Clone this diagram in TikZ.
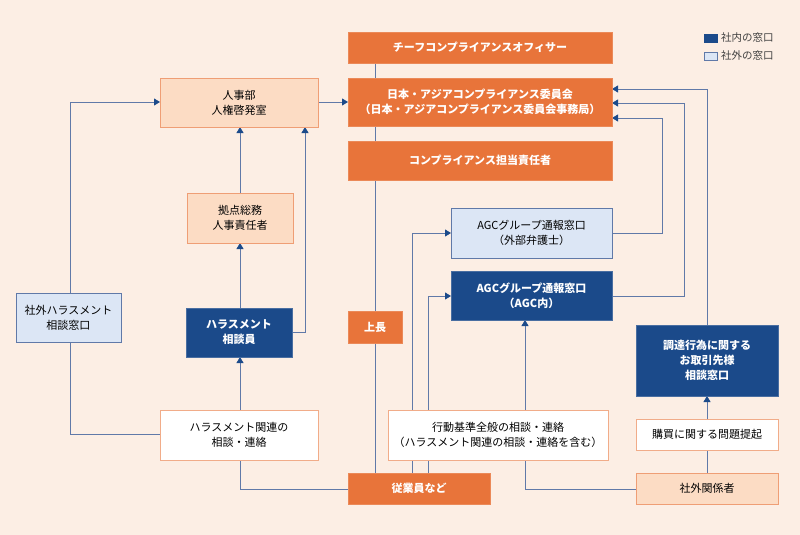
\documentclass[tikz,border=0pt]{standalone}
\usepackage{fontspec}
\setmainfont{Noto Sans CJK JP}
\usetikzlibrary{arrows.meta}
\definecolor{bg}{HTML}{FCEEE4}
\definecolor{org}{HTML}{E8743A}
\definecolor{dblue}{HTML}{1B4A8A}
\definecolor{lblue}{HTML}{DCE6F5}
\definecolor{peach}{HTML}{FCDCC4}
\definecolor{ln}{HTML}{6079A8}
\begin{document}
\begin{tikzpicture}[x=1pt,y=-1pt,
  box/.style={draw,line width=0.8pt,inner sep=0pt,align=center,font=\fontsize{11}{15}\selectfont},
  orgb/.style={box,fill=org,draw=org!85!white,text=white,font=\bfseries\fontsize{11}{15}\selectfont},
  dbb/.style={box,fill=dblue,draw=dblue!80!white,text=white,font=\bfseries\fontsize{11}{15}\selectfont},
  lbb/.style={box,fill=lblue,draw=ln,text=black},
  pb/.style={box,fill=peach,draw=org!70!white,text=black},
  wb/.style={box,fill=white,draw=org!60!white,text=black},
  con/.style={draw=ln,line width=0.8pt},
  arr/.style={con,-{Triangle[length=6pt,width=7pt,color=dblue]}}]
\fill[bg] (0,0) rectangle (800,535);
\useasboundingbox (0,0) rectangle (800,535);
\def\bx#1#2#3#4#5#6#7{\node[#1,minimum width=#4-#2,minimum height=#5-#3] (#6) at ({(#2+#4)/2},{(#3+#5)/2}) {#7};}
% connectors (behind)
\draw[con] (375,63) -- (375,473);
\draw[arr] (318,102) -- (348,102);
\draw[arr] (240,193) -- (240,127);
\draw[arr] (240,308) -- (240,243);
\draw[arr] (292,332) -- (305,332) -- (305,127);
\draw[arr] (70,293) -- (70,102) -- (160,102);
\draw[con] (70,342) -- (70,434) -- (160,434);
\draw[arr] (240,410) -- (240,357);
\draw[con] (240,460) -- (240,489) -- (348,489);
\draw[arr] (412,473) -- (412,233) -- (451,233);
\draw[arr] (428,473) -- (428,296) -- (451,296);
\draw[arr] (612,233) -- (662,233) -- (662,118) -- (612,118);
\draw[arr] (612,296) -- (684,296) -- (684,103) -- (612,103);
\draw[arr] (707,325) -- (707,89) -- (612,89);
\draw[arr] (707,419) -- (707,396);
\draw[con] (707,473) -- (707,450);
\draw[arr] (636,489) -- (525,489) -- (525,320);
% boxes
\bx{orgb}{348}{32}{612}{63}{chief}{チーフコンプライアンスオフィサー}
\bx{orgb}{348}{78}{612}{126}{comm}{日本・アジアコンプライアンス委員会\\（日本・アジアコンプライアンス委員会事務局）}
\bx{orgb}{348}{141}{612}{180}{resp}{コンプライアンス担当責任者}
\bx{pb}{160}{78}{318}{127}{hr}{人事部\\人権啓発室}
\bx{pb}{187}{193}{293}{243}{base}{拠点総務\\人事責任者}
\bx{dbb}{186}{308}{292}{357}{hc}{ハラスメント\\相談員}
\bx{lbb}{16}{293}{121}{342}{ext}{社外ハラスメント\\相談窓口}
\bx{wb}{160}{410}{318}{460}{hrel}{ハラスメント関連の\\相談・連絡}
\bx{orgb}{348}{311}{402}{343}{boss}{上長}
\bx{orgb}{348}{473}{490}{504}{emp}{従業員など}
\bx{lbb}{451}{208}{612}{258}{agcx}{AGCグループ通報窓口\\（外部弁護士）}
\bx{dbb}{451}{271}{612}{320}{agci}{AGCグループ通報窓口\\（AGC内）}
\bx{wb}{388}{410}{608}{460}{cond}{行動基準全般の相談・連絡\\（ハラスメント関連の相談・連絡を含む）}
\bx{dbb}{636}{325}{778}{396}{proc}{調達行為に関する\\お取引先様\\相談窓口}
\bx{wb}{636}{419}{778}{450}{buy}{購買に関する問題提起}
\bx{pb}{636}{473}{778}{504}{outp}{社外関係者}
% legend
\node[draw=dblue,fill=dblue,minimum width=13pt,minimum height=8pt,inner sep=0pt] (lg1) at (711,38) {};
\node[draw=ln,fill=lblue,minimum width=13pt,minimum height=8pt,inner sep=0pt] (lg2) at (711,56) {};
\node[anchor=west,font=\fontsize{10.5}{12}\selectfont,text=black!75] (lt1) at (lg1.east) {社内の窓口};
\node[anchor=west,font=\fontsize{10.5}{12}\selectfont,text=black!75] (lt2) at (lg2.east) {社外の窓口};
\end{tikzpicture}
\end{document}
